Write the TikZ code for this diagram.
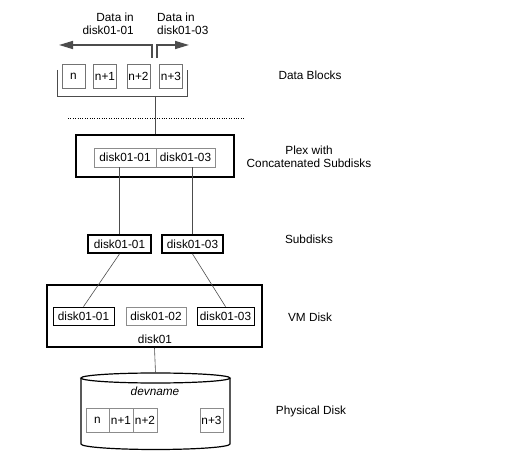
\documentclass[tikz,border=0pt]{standalone}
\usepackage{fontspec}
\setmainfont{Liberation Sans}
\usetikzlibrary{arrows.meta}
\begin{document}
\begin{tikzpicture}[x=1pt,y=-1pt,
  every node/.style={font=\fontsize{11.8}{12.5}\selectfont, inner sep=0pt},
  blk/.style={draw=black!55, line width=0.8pt, minimum width=23pt, minimum height=24pt},
  inbox/.style={draw=black!45, line width=0.8pt, minimum height=19pt},
  vmbox/.style={draw=black, line width=0.8pt, minimum height=18pt},
  thickbox/.style={draw=black, line width=1.8pt},
  conn/.style={draw=black!70, line width=0.6pt},
  darrow/.style={draw=black!70, line width=1.6pt, -{Triangle[length=14pt,width=8pt]}},
  lbl/.style={align=center}
]
\useasboundingbox (0,0) rectangle (525,457);

% --- Data blocks ---
\node[blk] (b0) at (73.5,76) {n};
\node[blk] (b1) at (105,76) {n+1};
\node[blk] (b2) at (138.5,76) {n+2};
\node[blk] (b3) at (171,76) {n+3};
\coordinate (brl) at (57,70);
\coordinate (brr) at (187,70);
\coordinate (brm) at (155,96);
\draw[conn] (brl) -- (brl |- brm) -- (brr |- brm) -- (brr);

% arrows
\coordinate (al) at (152,58);
\coordinate (ar) at (157,58);
\coordinate (altip) at (59,45);
\coordinate (artip) at (189,45);
\draw[darrow] (al) -- (al |- altip) -- (altip);
\draw[darrow] (ar) -- (ar |- artip) -- (artip);
\node[align=right, anchor=east] (tl) at (134,24) {Data in\\disk01-01};
\node[align=left, anchor=west] (tr) at (157,24) {Data in\\disk01-03};

% dotted separator
\coordinate (d1) at (68,118);
\coordinate (d2) at (245,118);
\draw[black, line width=0.8pt, dash pattern=on 1pt off 1.4pt] (d1) -- (d2);

% --- Plex ---
\node[thickbox, minimum width=158pt, minimum height=42pt] (plex) at (155,156) {};
\node[inbox, minimum width=62pt] (pa) at (125,157.5) {disk01-01};
\node[inbox, minimum width=59pt] (pb) at (185.5,157.5) {disk01-03};
\draw[conn] (brm) -- (brm |- plex.north);

% --- Subdisks ---
\node[thickbox, minimum width=63pt, minimum height=18pt] (sa) at (119.5,244) {disk01-01};
\node[thickbox, minimum width=61pt, minimum height=18pt] (sb) at (192.5,244) {disk01-03};
\draw[conn] (sa.north |- pa.south) -- (sa.north);
\draw[conn] (sb.north |- pb.south) -- (sb.north);

% --- VM disk ---
\node[thickbox, minimum width=215pt, minimum height=62pt] (vm) at (154.5,316) {};
\node[vmbox, minimum width=61pt] (va) at (83.5,316) {disk01-01};
\node[vmbox, draw=black!45, minimum width=60pt] (vb) at (156,316) {disk01-02};
\node[vmbox, minimum width=57pt] (vc) at (225.5,316) {disk01-03};
\node (vmname) at (155,339) {disk01};
\draw[conn] (sa.south) -- (va.north);
\draw[conn] (sb.south) -- (vc.north);

% --- Physical disk (cylinder) ---
\node[minimum width=149pt, minimum height=77pt] (pd) at (155.5,411.5) {};
\draw[black, line width=1.2pt] (155.5,378) ellipse [x radius=74.5pt, y radius=5pt];
\draw[black, line width=1.2pt] (81,378) -- (81,444) arc [start angle=180, end angle=360, x radius=74.5pt, y radius=5.5pt] -- (230,378);
\draw[conn] (vm.south) -- (pd.north);
\node[font=\fontsize{11.8}{12.5}\selectfont\itshape] (dev) at (155,391) {devname};
\node[blk, draw=black!45] (p0) at (97.5,420) {n};
\node[blk, draw=black!45, minimum width=24pt] (p1) at (121,420) {n+1};
\node[blk, draw=black!45, minimum width=24pt] (p2) at (145,420) {n+2};
\node[blk, draw=black!45] (p3) at (211.5,420) {n+3};

% --- Labels ---
\node[lbl] (l1) at (310,75) {Data Blocks};
\node[lbl] (l2) at (309,157) {Plex with\\Concatenated Subdisks};
\node[lbl] (l3) at (309,239) {Subdisks};
\node[lbl] (l4) at (310,317) {VM Disk};
\node[lbl] (l5) at (311,411) {Physical Disk};
\end{tikzpicture}
\end{document}
